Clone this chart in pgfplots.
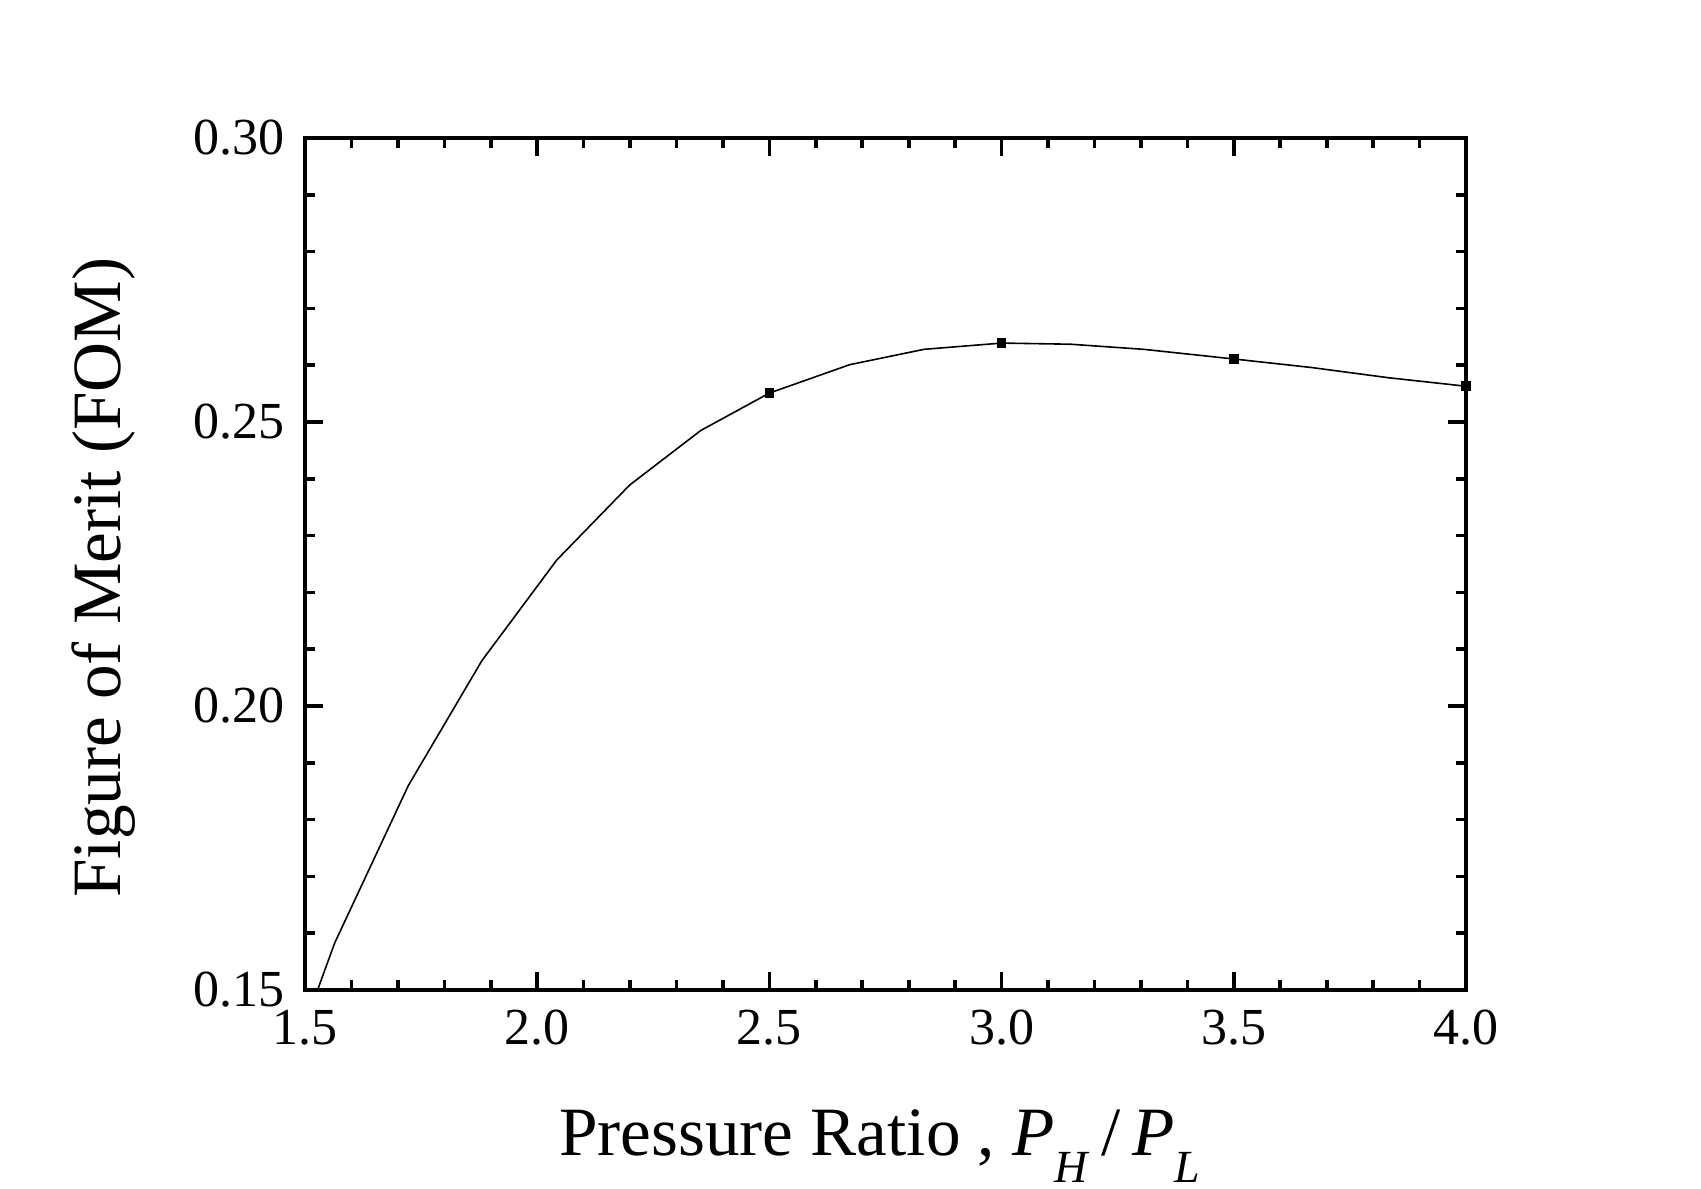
\documentclass[border=0pt]{standalone}
\usepackage{fontspec}
\setmainfont{Liberation Serif}
\usepackage{pgfplots}
\pgfplotsset{compat=1.18}

\begin{document}
\begin{tikzpicture}
\begin{axis}[
    scale only axis,
    width=290.25pt, height=213pt,
    xmin=1.5, xmax=4.0, ymin=0.15, ymax=0.30,
    xtick={1.5,2.0,...,4.0}, ytick={0.15,0.20,0.25,0.30},
    minor x tick num=4, minor y tick num=4,
    tick align=inside, tick pos=both,
    major tick length=4.5pt, minor tick length=2.5pt,
    every tick/.style={black, line width=0.9pt},
    axis line style={line width=0.9pt},
    /pgf/number format/assume math mode=true,
    xticklabel style={font=\fontsize{13}{15}\selectfont, /pgf/number format/.cd, fixed, fixed zerofill, precision=1},
    yticklabel style={font=\fontsize{13}{15}\selectfont, /pgf/number format/.cd, fixed, fixed zerofill, precision=2},
    xticklabel shift=1.5pt, yticklabel shift=1.5pt,
    xlabel={Pressure Ratio , \textit{P}\raisebox{-0.4em}{\fontsize{11.5}{12}\selectfont\textit{H}}\,/\,\textit{P}\raisebox{-0.4em}{\fontsize{11.5}{12}\selectfont\textit{L}}},
    ylabel={Figure of Merit (FOM)},
    label style={font=\fontsize{17.3}{20}\selectfont},
    xlabel style={at={(axis description cs:0.495,-0.1937)}, anchor=base},
    ylabel style={at={(axis description cs:-0.1593,0.484)}, anchor=base},
    clip=true,
]
    \addplot[black, line width=0.4pt, mark=square*, mark size=1pt,
        mark indices={8,11,14,17}] coordinates {
      (1.527,0.1500) (1.564,0.1583) (1.7225,0.1860) (1.881,0.2080)
      (2.042,0.2257) (2.199,0.2389) (2.352,0.2485) (2.500,0.2551)
      (2.673,0.2601) (2.833,0.2628) (3.000,0.2639) (3.148,0.2637)
      (3.306,0.2628) (3.500,0.2611) (3.667,0.2596) (3.833,0.2578)
      (4.000,0.2563)};
    \coordinate (bl) at (rel axis cs:-0.2627,-0.2324);
    \coordinate (tr) at (rel axis cs:1.2024,1.162);
\end{axis}
\pgfresetboundingbox
\useasboundingbox (bl) rectangle (tr);
\end{tikzpicture}
\end{document}
